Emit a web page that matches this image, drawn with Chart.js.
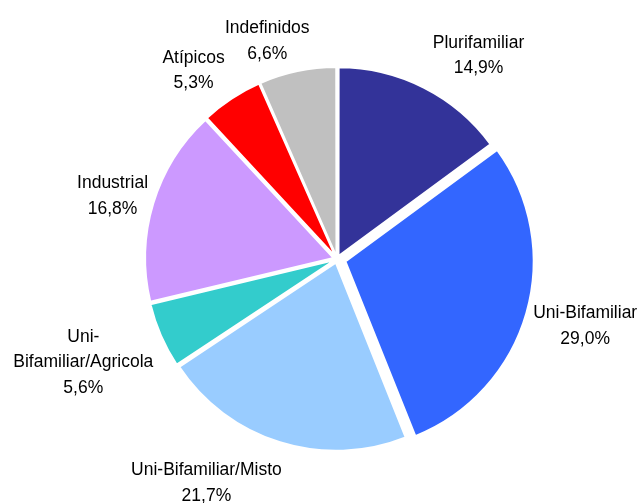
<!DOCTYPE html>
<html>
<head>
<meta charset="utf-8">
<script src="https://cdn.jsdelivr.net/npm/chart.js@4/dist/chart.umd.min.js"></script>
<style>
  html, body { margin: 0; padding: 0; background: #ffffff; }
  #wrap { width: 641px; height: 503px; }
</style>
</head>
<body>
<div id="wrap"><canvas id="pieChart" width="641" height="503"></canvas></div>
<script>
// Chart data
const categories = [
  "Plurifamiliar",
  "Uni-Bifamiliar",
  "Uni-Bifamiliar/Misto",
  "Uni-Bifamiliar/Agricola",
  "Industrial",
  "Atípicos",
  "Indefinidos",
];
const shares = [14.9, 29.0, 21.7, 5.6, 16.8, 5.3, 6.6];
const sliceColors = ["#333399", "#3366FF", "#99CCFF", "#33CCCC", "#CC99FF", "#FF0000", "#C0C0C0"];

// visual pull-out of each slice in px (Uni-Bifamiliar is exploded a bit more)
const pullOut = [4, 9, 4, 4, 4, 4, 4];
// small tweaks to where the data labels sit, relative to their computed spot
const labelNudge = [[31, -3], [2, 4], [-49, 10], [-7, 9], [0, 2], [-17, -1], [-20, 2]];

const total = shares.reduce((a, b) => a + b, 0);
const FONT = "17.5px 'Liberation Sans', Arial, sans-serif";
const LINE_H = 25.5;

// Chart.js v4 divides the arc offset by 4 and adds a correction for narrow slices
function arcOffset(ctx) {
  const circ = (shares[ctx.dataIndex] / total) * Math.PI * 2;
  const fix = 1 - Math.sin(Math.min(Math.PI, circ));
  return (pullOut[ctx.dataIndex] * 4) / (1 + fix);
}

function fmtPct(v) {
  return v.toFixed(1).replace(".", ",") + "%";
}

const outsideLabels = {
  id: "outsideLabels",
  afterDatasetsDraw(chart) {
    const ctx = chart.ctx;
    const meta = chart.getDatasetMeta(0);
    ctx.save();
    ctx.font = FONT;
    ctx.fillStyle = "#000000";
    ctx.textAlign = "center";
    ctx.textBaseline = "middle";
    meta.data.forEach((arc, i) => {
      const p = arc.getProps(["x", "y", "startAngle", "endAngle", "outerRadius"], true);
      const mid = (p.startAngle + p.endAngle) / 2;
      const ux = Math.cos(mid);
      const uy = Math.sin(mid);

      let lines = [categories[i]];
      if (ctx.measureText(categories[i]).width > 160 && categories[i].indexOf("-") > 0) {
        const k = categories[i].indexOf("-") + 1;
        lines = [categories[i].slice(0, k), categories[i].slice(k)];
      }
      lines.push(fmtPct(shares[i]));

      const w = Math.max(...lines.map((t) => ctx.measureText(t).width));
      const h = lines.length * LINE_H;
      const dist = p.outerRadius + pullOut[i] + 7;
      const cx = p.x + ux * dist + ux * w / 2 + labelNudge[i][0];
      const cy = p.y + uy * dist + uy * h / 2 + labelNudge[i][1];
      lines.forEach((t, j) => {
        ctx.fillText(t, cx, cy - h / 2 + LINE_H * (j + 0.5));
      });
    });
    ctx.restore();
  },
};

const chartCtx = document.getElementById("pieChart").getContext("2d");
const pieChart = new Chart(chartCtx, {
  type: "pie",
  data: {
    labels: categories,
    datasets: [
      {
        data: shares,
        backgroundColor: sliceColors,
        borderColor: "#ffffff",
        borderWidth: 2,
        offset: arcOffset,
        hoverOffset: 0,
      },
    ],
  },
  options: {
    responsive: false,
    animation: false,
    radius: 188,
    layout: {
      padding: { left: 100, right: 67, top: 30, bottom: 15 },
    },
    plugins: {
      legend: { display: false },
      tooltip: { enabled: false },
    },
  },
  plugins: [outsideLabels],
});
</script>
</body>
</html>
